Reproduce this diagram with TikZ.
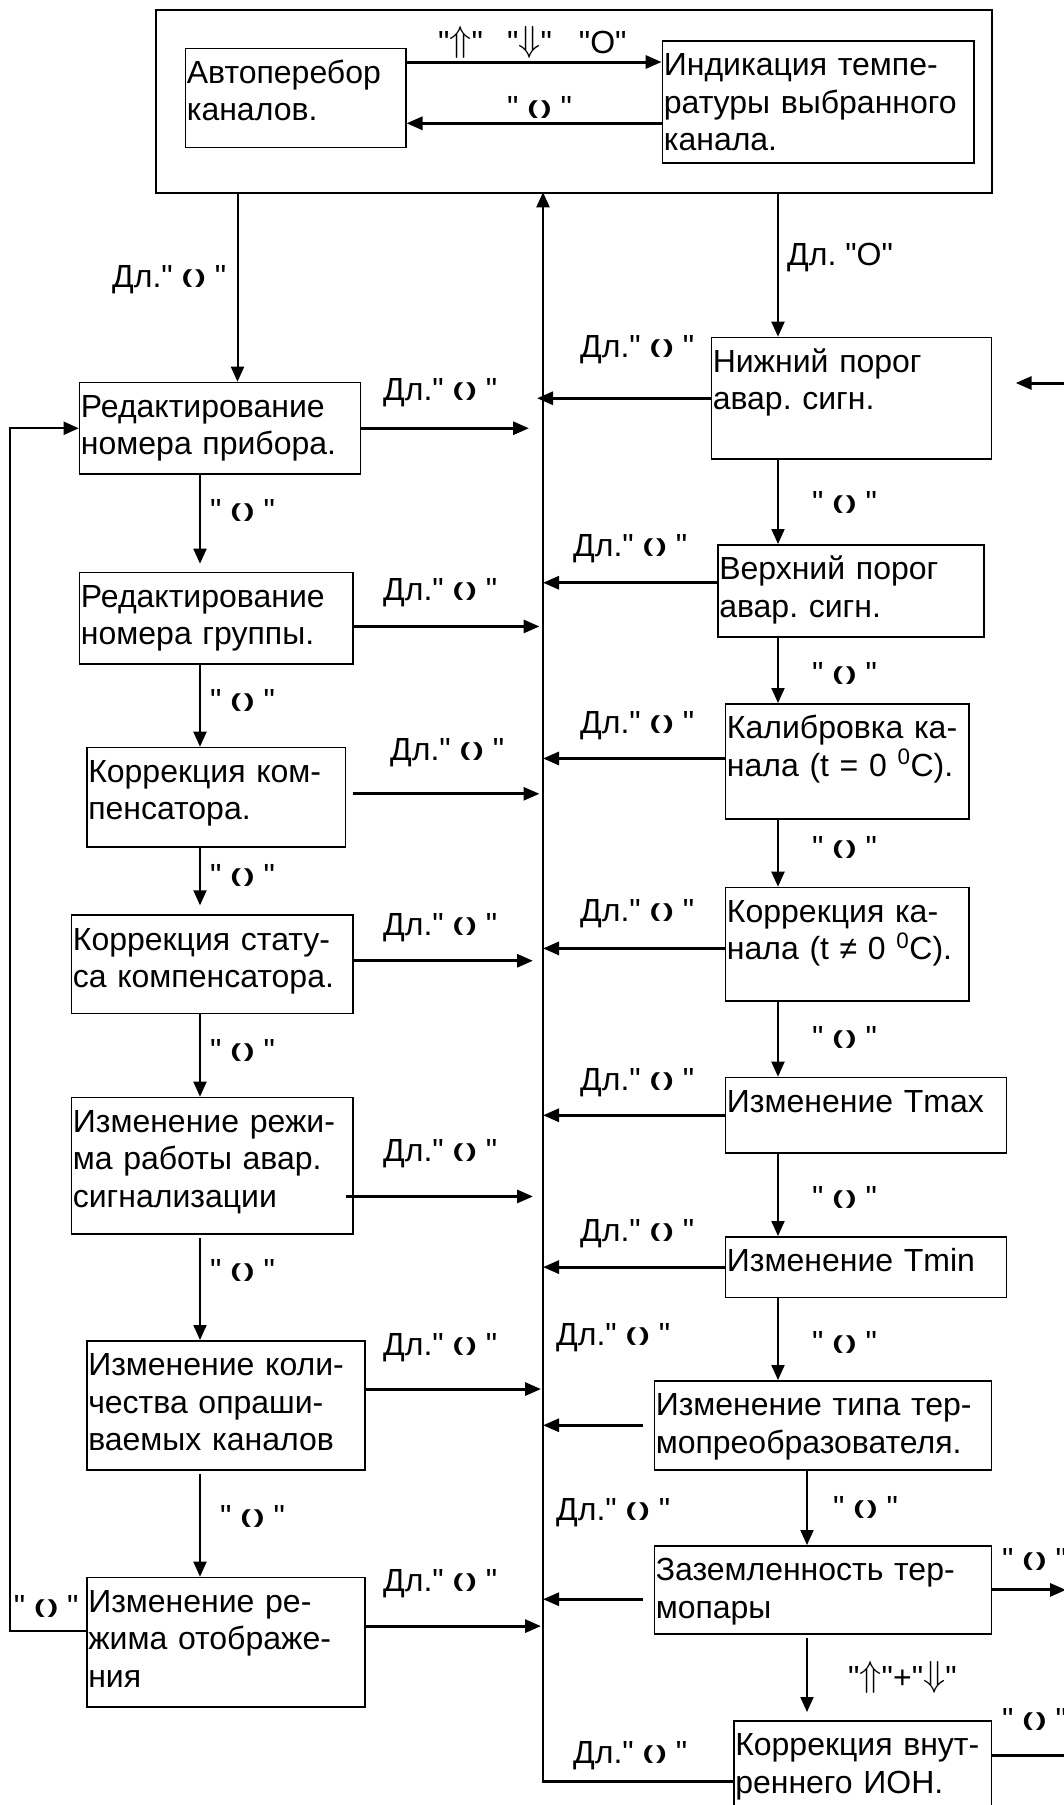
\RequirePackage{fix-cm}
\documentclass[tikz,border=0pt]{standalone}
\usepackage{fontspec}
\usepackage{graphicx}
\setmainfont{Liberation Sans}[Ligatures=TeXOff]
\usetikzlibrary{arrows.meta}

\newcommand{\krug}{\raisebox{3.6pt}{\scalebox{1.7}[1]{\fontsize{19}{19}\selectfont\bfseries(\kern1.6pt)}}}
\newcommand{\strV}{\raisebox{2pt}{\scalebox{1.25}{\fontsize{29}{29}\selectfont$\Uparrow$}}}
\newcommand{\strN}{\raisebox{2pt}{\scalebox{1.25}{\fontsize{29}{29}\selectfont$\Downarrow$}}}

\begin{document}
\frenchspacing
\begin{tikzpicture}[x=1pt,y=-1pt,
  blok/.style={draw,line width=1.5pt,anchor=north west,align=left,inner xsep=1.5pt,inner ysep=0pt,text height=35pt,font=\fontsize{32}{37.5}\selectfont},
  podpis/.style={anchor=base west,inner sep=0pt,font=\fontsize{32}{37.5}\selectfont},
  strelka/.style={line width=3pt,-{Triangle[length=16pt,width=13pt]}},
  vniz/.style={line width=2pt,-{Triangle[length=15pt,width=13pt]}}]
        \clip (0,0) rectangle (1064,1805);

        \node[draw,line width=2pt,anchor=north west,minimum width=836pt,minimum height=183pt,inner sep=0pt] (glavn) at (154.7,9.3){};
        \node[blok,text width=217.4pt,text depth=64pt] (avto) at (184.6,47.7){Автоперебор\\каналов.};
        \node[blok,text width=308.4pt,text depth=87pt] (indik) at (661.6,40){Индикация темпе-\\ратуры выбранного\\канала.};

        \node[blok,text width=277.9pt,text depth=56.6pt] (redpr) at (78.7,381.7){Редактирование\\номера прибора.};
        \node[blok,text width=270.3pt,text depth=56.6pt] (redgr) at (78.7,571.7){Редактирование\\номера группы.};
        \node[blok,text width=255.7pt,text depth=64.3pt] (korkomp) at (86,746.7){Коррекция ком-\\пенсатора.};
        \node[blok,text width=278.4pt,text depth=63.4pt] (korstat) at (70.6,914.3){Коррекция стату-\\са компенсатора.};
        \node[blok,text width=278.4pt,text depth=101.6pt] (rezhav) at (70.6,1096.7){Изменение режи-\\ма работы авар.\\сигнализации};
        \node[blok,text width=275.4pt,text depth=94pt] (kolich) at (86,1340){Изменение коли-\\чества опраши-\\ваемых каналов};
        \node[blok,text width=275.4pt,text depth=94.3pt] (otobr) at (86,1576.7){Изменение ре-\\жима отображе-\\ния};

        \node[blok,text width=277.2pt,text depth=86.6pt] (nizh) at (710.5,336.7){Нижний порог\\авар. сигн.};
        \node[blok,text width=263pt,text depth=57pt] (verh) at (717,544){Верхний порог\\авар. сигн.};
        \node[blok,text width=240.6pt,text depth=80pt] (kalib) at (724.7,703){Калибровка ка-\\нала (t = 0 \textsuperscript{0}C).};
        \node[blok,text width=240.6pt,text depth=78.3pt] (korkan) at (724.7,886.7){Коррекция ка-\\нала (t ≠ 0 \textsuperscript{0}C).};
        \node[blok,text width=278pt,text depth=40.6pt] (tmax) at (724.7,1076.7){Изменение Tmax};
        \node[blok,text width=278pt,text depth=25.7pt] (tmin) at (724.7,1236){Изменение Tmin};
        \node[blok,text width=334.2pt,text depth=54pt] (tip) at (653.5,1380){Изменение типа тер-\\мопреобразователя.};
        \node[blok,text width=334.2pt,text depth=53.3pt] (zazem) at (653.5,1545){Заземленность тер-\\мопары};
        \node[blok,text width=254.7pt,text depth=86.4pt] (ion) at (733,1720){Коррекция внут-\\реннего ИОН.};

        \coordinate (os) at (543,192.3);
        \coordinate (lk0) at (237.5,0);
        \coordinate (lk) at (200,0);
        \coordinate (pk) at (778,0);
        \coordinate (pk2) at (807,0);
        \coordinate (lp) at (10.2,0);

        % inside the top block
        \draw[strelka] ([yshift=-14.3pt]avto.north east) -- ([yshift=-22pt]indik.north west);
        \draw[strelka] ([yshift=-83.3pt]indik.north west) -- ([yshift=-75.6pt]avto.north east);
        \node[podpis] (m1) at (438,53){"\strV"\hspace{24pt}"\strN"\hspace{27pt}"O"};
        \node[podpis] (m2) at (507,118){"~\krug~"};

        % central return line
        \draw[line width=2.2pt,-{Triangle[length=15pt,width=13pt]}] (ion.west) -| (os);

        % left column
        \draw[vniz] (glavn.south -| lk0) -- (redpr.north -| lk0);
        \node[podpis] (m3) at (112,287){Дл."~\krug~"};
        \draw[vniz,shorten >=8pt] (redpr.south -| lk) -- (redgr.north -| lk);
        \draw[vniz] (redgr.south -| lk) -- (korkomp.north -| lk);
        \draw[vniz,shorten >=9pt] (korkomp.south -| lk) -- (korstat.north -| lk);
        \draw[vniz] (korstat.south -| lk) -- (rezhav.north -| lk);
        \draw[vniz,shorten <=3pt] (rezhav.south -| lk) -- (kolich.north -| lk);
        \draw[vniz,shorten <=3pt] (kolich.south -| lk) -- (otobr.north -| lk);
        \node[podpis] (k1) at (210,521){"~\krug~"};
        \node[podpis] (k2) at (210,711){"~\krug~"};
        \node[podpis] (k3) at (210,886){"~\krug~"};
        \node[podpis] (k4) at (210,1061){"~\krug~"};
        \node[podpis] (k5) at (210,1281){"~\krug~"};
        \node[podpis] (k6) at (220,1527){"~\krug~"};

        \coordinate (s3) at ([xshift=6.3pt,yshift=3.3pt]korkomp.east);
        \coordinate (s2) at ([yshift=-8.2pt]redgr.east);
        \coordinate (s4) at ([yshift=3.5pt]korstat.east);
        \coordinate (s5) at ([xshift=-7.3pt,yshift=-30.7pt]rezhav.east);
        \coordinate (s6) at ([yshift=16.2pt]kolich.east);
        \coordinate (s7) at ([yshift=16pt]otobr.east);
        \draw[strelka,shorten >=14pt] (redpr.east) -- (redpr.east -| os);
        \draw[strelka,shorten >=3.5pt] (s2) -- (s2 -| os);
        \draw[strelka,shorten >=3.5pt] (s3) -- (s3 -| os);
        \draw[strelka,shorten >=10pt] (s4) -- (s4 -| os);
        \draw[strelka,shorten >=10pt] (s5) -- (s5 -| os);
        \draw[strelka,shorten >=2pt] (s6) -- (s6 -| os);
        \draw[strelka,shorten >=2pt] (s7) -- (s7 -| os);
        \node[podpis] (d1) at (383,400){Дл."~\krug~"};
        \node[podpis] (d2) at (383,600){Дл."~\krug~"};
        \node[podpis] (d3) at (390,760){Дл."~\krug~"};
        \node[podpis] (d4) at (383,935){Дл."~\krug~"};
        \node[podpis] (d5) at (383,1161){Дл."~\krug~"};
        \node[podpis] (d6) at (383,1355){Дл."~\krug~"};
        \node[podpis] (d7) at (383,1591){Дл."~\krug~"};

        % loop back to the first block
        \coordinate (p1) at ([yshift=11pt]otobr.west);
        \draw[line width=2pt,-{Triangle[length=15pt,width=13pt]}] (p1) -- (p1 -| lp) |- (redpr.west);
        \node[podpis] (k0) at (13.6,1617){"~\krug~"};

        % right column
        \draw[vniz] (glavn.south -| pk) -- (nizh.north -| pk);
        \node[podpis] (m4) at (787,265){Дл. "O"};
        \draw[vniz] (nizh.south -| pk) -- (verh.north -| pk);
        \draw[vniz] (verh.south -| pk) -- (kalib.north -| pk);
        \draw[vniz] (kalib.south -| pk) -- (korkan.north -| pk);
        \draw[vniz] (korkan.south -| pk) -- (tmax.north -| pk);
        \draw[vniz] (tmax.south -| pk) -- (tmin.north -| pk);
        \draw[vniz] (tmin.south -| pk) -- (tip.north -| pk);
        \draw[vniz] (tip.south -| pk2) -- (zazem.north -| pk2);
        \draw[vniz,shorten <=3pt,shorten >=8pt] (zazem.south -| pk2) -- (ion.north -| pk2);
        \node[podpis] (q1) at (812,513){"~\krug~"};
        \node[podpis] (q2) at (812,684){"~\krug~"};
        \node[podpis] (q3) at (812,858){"~\krug~"};
        \node[podpis] (q4) at (812,1048){"~\krug~"};
        \node[podpis] (q5) at (812,1208){"~\krug~"};
        \node[podpis] (q6) at (812,1353){"~\krug~"};
        \node[podpis] (q7) at (833,1518){"~\krug~"};
        \node[podpis] (q8) at (848,1688){"\strV"+"\strN"};

        \coordinate (r2) at ([yshift=8pt]verh.west);
        \coordinate (r3) at ([yshift=2.8pt]kalib.west);
        \coordinate (r4) at ([yshift=-4.3pt]korkan.west);
        \coordinate (r7) at ([xshift=-10.5pt]tip.west);
        \coordinate (r8) at ([xshift=-10.5pt,yshift=-9.3pt]zazem.west);
        \draw[strelka,shorten >=-6pt] (nizh.west) -- (nizh.west -| os);
        \draw[strelka] (r2) -- (r2 -| os);
        \draw[strelka] (r3) -- (r3 -| os);
        \draw[strelka] (r4) -- (r4 -| os);
        \draw[strelka] (tmax.west) -- (tmax.west -| os);
        \draw[strelka] (tmin.west) -- (tmin.west -| os);
        \draw[strelka] (r7) -- (r7 -| os);
        \draw[strelka] (r8) -- (r8 -| os);
        \node[podpis] (e1) at (580,357){Дл."~\krug~"};
        \node[podpis] (e2) at (573,556){Дл."~\krug~"};
        \node[podpis] (e3) at (580,733){Дл."~\krug~"};
        \node[podpis] (e4) at (580,921){Дл."~\krug~"};
        \node[podpis] (e5) at (580,1090){Дл."~\krug~"};
        \node[podpis] (e6) at (580,1241){Дл."~\krug~"};
        \node[podpis] (e7) at (556,1345){Дл."~\krug~"};
        \node[podpis] (e8) at (556,1520){Дл."~\krug~"};
        \node[podpis] (e9) at (573,1763){Дл."~\krug~"};

        % exits at the right edge
        \coordinate (vh) at (1070,383);
        \coordinate (vyh1) at (1066,1590);
        \coordinate (vyh2) at (1070,1755);
        \draw[strelka,shorten >=23.5pt] (vh) -- (vh -| nizh.east);
        \draw[strelka] (zazem.east) -- (zazem.east -| vyh1);
        \draw[line width=3pt] (vyh2 -| ion.east) -- (vyh2);
        \node[podpis] (x1) at (1002,1570){"~\krug~"};
        \node[podpis] (x2) at (1002,1730){"~\krug~"};

    \end{tikzpicture}
\end{document}
